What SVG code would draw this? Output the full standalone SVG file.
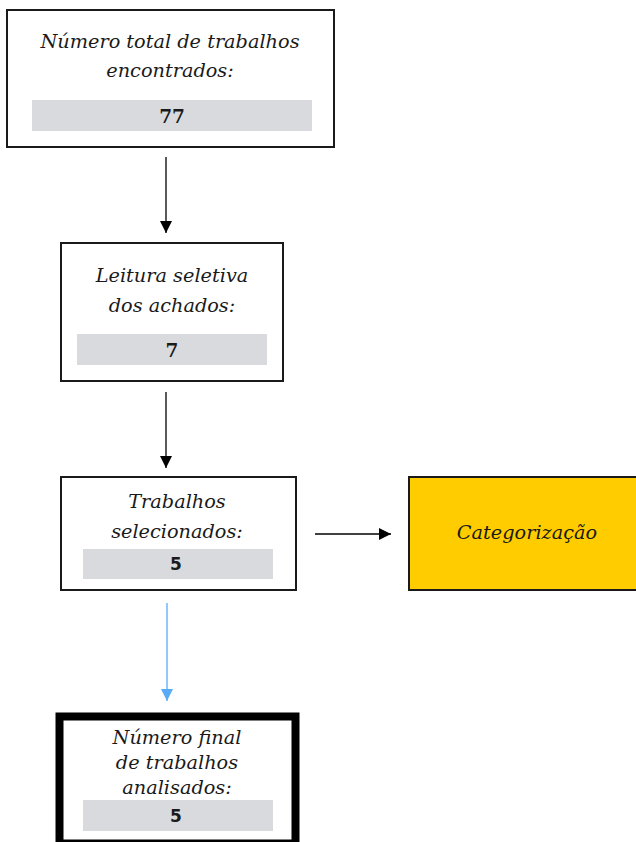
<svg xmlns="http://www.w3.org/2000/svg" width="636" height="842" viewBox="0 0 636 842">
<style>
.box{fill:#fff;stroke:#1a1a1a;stroke-width:2}
.bar{fill:#d9dadd}
.t{font-family:"DejaVu Serif","Liberation Serif",serif;font-style:italic;font-size:19.3px;fill:#1a1a1a;text-anchor:middle}
.n{font-family:"DejaVu Serif","Liberation Serif",serif;font-weight:bold;font-size:18.5px;fill:#1a1a1a;text-anchor:middle}
.ns{font-family:"DejaVu Sans","Liberation Sans",sans-serif;font-weight:bold;font-size:17px;fill:#1a1a1a;text-anchor:middle}
.c{stroke:#000;stroke-width:1.3;fill:none}
</style>
<defs>
<marker id="ah" markerWidth="13" markerHeight="13" refX="12" refY="6.5" orient="auto" markerUnits="userSpaceOnUse" viewBox="0 0 13 13"><path d="M0,0.5 L12,6.5 L0,12.5 z" fill="#000"/></marker>
<marker id="ahb" markerWidth="13" markerHeight="13" refX="12" refY="6.5" orient="auto" markerUnits="userSpaceOnUse" viewBox="0 0 13 13"><path d="M0,0.5 L12,6.5 L0,12.5 z" fill="#5aabf5"/></marker>
</defs>
<g id="n1">
<rect class="box" x="7" y="10" width="327" height="137"/>
<rect class="bar" x="32" y="100" width="280" height="31"/>
<text class="t" x="170" y="48">Número total de trabalhos</text>
<text class="t" x="170" y="77">encontrados:</text>
<text class="n" x="172" y="123">77</text>
</g>
<g id="n2">
<rect class="box" x="61" y="243" width="222" height="138"/>
<rect class="bar" x="77" y="334" width="190" height="31"/>
<text class="t" x="172" y="282">Leitura seletiva</text>
<text class="t" x="172" y="312">dos achados:</text>
<text class="n" x="172" y="357">7</text>
</g>
<g id="n3">
<rect class="box" x="61" y="477" width="235" height="113"/>
<rect class="bar" x="83" y="549" width="190" height="30"/>
<text class="t" x="177" y="508">Trabalhos</text>
<text class="t" x="177" y="538">selecionados:</text>
<text class="ns" x="176" y="570">5</text>
</g>
<g id="n4">
<rect x="409" y="477" width="240" height="113" fill="#ffcc00" stroke="#1a1a1a" stroke-width="2"/>
<text class="t" x="527" y="539">Categorização</text>
</g>
<g id="n5">
<rect x="59.5" y="716.5" width="236" height="127" fill="#fff" stroke="#000" stroke-width="8"/>
<rect class="bar" x="83" y="800" width="190" height="31"/>
<text class="t" x="177" y="744">Número final</text>
<text class="t" x="177" y="769">de trabalhos</text>
<text class="t" x="177" y="794">analisados:</text>
<text class="ns" x="176" y="822">5</text>
</g>
<g id="connectors">
<line class="c" x1="166" y1="157" x2="166" y2="233" marker-end="url(#ah)"/>
<line class="c" x1="166" y1="392" x2="166" y2="468" marker-end="url(#ah)"/>
<line class="c" x1="315" y1="534" x2="391" y2="534" marker-end="url(#ah)"/>
<line x1="167" y1="603" x2="167" y2="701" stroke="#5aabf5" stroke-width="1.3" marker-end="url(#ahb)"/>
</g>
</svg>
